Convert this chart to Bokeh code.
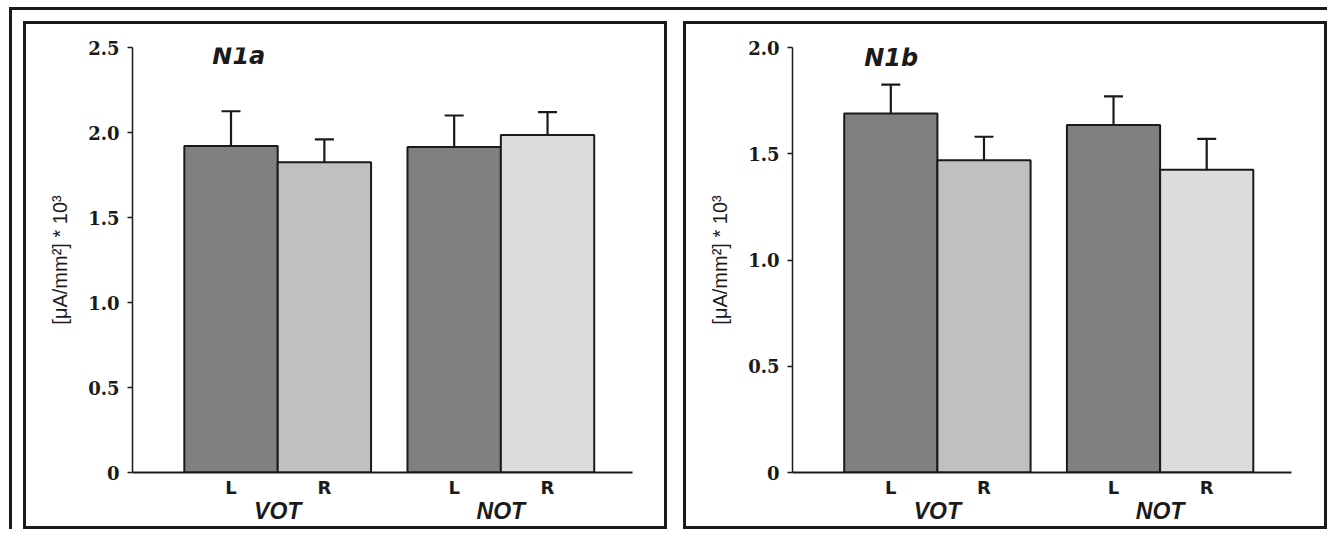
from bokeh.plotting import figure
from bokeh.models import (Range1d, FixedTicker, LinearAxis, Whisker, ColumnDataSource,
                          TeeHead, Label)
from bokeh.layouts import row, column
from bokeh.embed import file_html
from bokeh.resources import INLINE

# ---------------- data ----------------
groups = ["VOT", "NOT"]
sides = ["L", "R"]
bar_colors = ["#808080", "#c0c0c0", "#808080", "#dcdcdc"]

n1a_title = "N1a"
n1a_mean = [1.92, 1.825, 1.915, 1.985]
n1a_err = [0.205, 0.135, 0.185, 0.135]
n1a_ticks = [0, 0.5, 1.0, 1.5, 2.0, 2.5]

n1b_title = "N1b"
n1b_mean = [1.69, 1.47, 1.635, 1.425]
n1b_err = [0.135, 0.11, 0.135, 0.145]
n1b_ticks = [0, 0.5, 1.0, 1.5, 2.0]

y_label = "[\u03bcA/mm\u00b2] * 10\u00b3"

GAP = 0.39
INK = "#1a1a1a"


def panel(title, title_xy, means, errs, ticks, content_w, mb_right):
    pos = [g * (len(sides) + GAP) + s for g in range(len(groups)) for s in range(len(sides))]
    labels = {pos[i]: sides[i % len(sides)] for i in range(len(pos))}
    centers = [(pos[i * 2] + pos[i * 2 + 1]) / 2 for i in range(len(groups))]
    glabels = {centers[i]: groups[i] for i in range(len(groups))}

    p = figure(width=content_w, height=502,
               x_range=Range1d(-0.5 - 0.555, pos[-1] + 0.5 + 0.41),
               y_range=Range1d(0, ticks[-1]),
               output_backend="svg", toolbar_location=None,
               min_border_left=106, min_border_right=mb_right,
               min_border_top=23, min_border_bottom=54)
    p.grid.visible = False
    p.outline_line_color = None
    p.background_fill_color = "white"
    p.border_fill_color = "white"

    src = ColumnDataSource(dict(x=pos, top=means, color=bar_colors,
                                upper=[m + e for m, e in zip(means, errs)]))
    p.vbar(x="x", top="top", bottom=0, width=1.0, source=src,
           fill_color="color", line_color=INK, line_width=2)
    w = Whisker(source=src, base="x", upper="upper", lower="top",
                upper_head=TeeHead(size=19, line_width=2.2, line_color=INK),
                lower_head=None, line_width=2.2, line_color=INK)
    p.add_layout(w)

    # y axis
    ya = p.yaxis[0]
    ya.ticker = FixedTicker(ticks=ticks)
    ya.major_label_overrides = {t: ("0" if t == 0 else "%.1f" % t) for t in ticks}
    ya.minor_tick_line_color = None
    ya.major_tick_in = 0
    ya.major_tick_out = 5
    ya.major_tick_line_width = 1.5
    ya.axis_line_width = 1.5
    ya.axis_line_color = INK
    ya.major_tick_line_color = INK
    ya.major_label_text_font = "DejaVu Serif"
    ya.major_label_text_font_style = "bold"
    ya.major_label_text_font_size = "18px"
    ya.major_label_text_color = INK
    ya.major_label_standoff = 8
    ya.axis_label = y_label
    ya.axis_label_text_font = "Liberation Sans"
    ya.axis_label_text_font_style = "normal"
    ya.axis_label_text_font_size = "20px"
    ya.axis_label_text_color = INK
    ya.axis_label_standoff = 14

    # x axis (L / R)
    xa = p.xaxis[0]
    xa.ticker = FixedTicker(ticks=pos)
    xa.major_label_overrides = labels
    xa.minor_tick_line_color = None
    xa.major_tick_line_color = None
    xa.major_tick_in = 0
    xa.major_tick_out = 0
    xa.axis_line_width = 2
    xa.axis_line_color = INK
    xa.major_label_text_font = "DejaVu Sans"
    xa.major_label_text_font_style = "bold"
    xa.major_label_text_font_size = "18px"
    xa.major_label_text_color = INK
    xa.major_label_standoff = 4

    # group axis (VOT / NOT)
    ga = LinearAxis(ticker=FixedTicker(ticks=centers), major_label_overrides=glabels)
    ga.axis_line_color = None
    ga.major_tick_line_color = None
    ga.minor_tick_line_color = None
    ga.major_tick_in = 0
    ga.major_tick_out = 0
    ga.major_label_text_font = "Liberation Sans"
    ga.major_label_text_font_style = "bold italic"
    ga.major_label_text_font_size = "23px"
    ga.major_label_text_color = INK
    ga.major_label_standoff = -3
    p.add_layout(ga, "below")

    p.add_layout(Label(x=title_xy[0], y=title_xy[1], text=title,
                       text_font="DejaVu Sans", text_font_style="bold italic",
                       text_font_size="24px", text_color=INK,
                       text_baseline="middle", text_align="left"))
    return p


p1 = panel(n1a_title, (-0.2, 2.45), n1a_mean, n1a_err, n1a_ticks, 638, 32)
p2 = panel(n1b_title, (-0.285, 1.95), n1b_mean, n1b_err, n1b_ticks, 638, 33)

box = {"border": "3px solid #1a1a1a", "background-color": "white"}
c1 = column(p1, styles=box)
c2 = column(p2, styles=box)
layout = row(c1, c2, spacing=16,
             styles={"border-top": "3px solid #1a1a1a", "border-left": "3px solid #1a1a1a",
                     "padding-top": "11px", "padding-left": "11px",
                     "margin-top": "7px", "margin-left": "9px", "background-color": "white"})

open("out.html", "w").write(file_html(layout, INLINE))
